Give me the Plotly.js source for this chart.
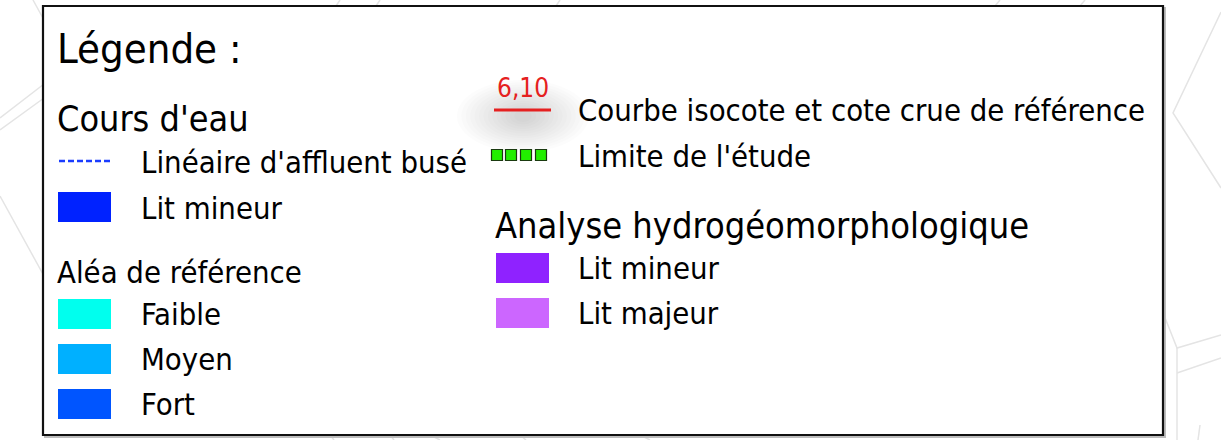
<!DOCTYPE html>
<html><head><meta charset="utf-8">
<script src="https://cdn.plot.ly/plotly-3.0.1.min.js"></script>
<style>html,body{margin:0;padding:0;background:#fff;}#chart{width:1221px;height:440px;}</style>
</head><body><div id="chart"></div>
<script>
// ---- data ----
const legendTitle = "Légende :";
const groupTitles = ["Cours d'eau", "Aléa de référence", "Analyse hydrogéomorphologique"];
const coursLabels = ["Linéaire d'affluent busé", "Lit mineur"];
const coursColors = ["#1a3cff", "#0022ff"];
const aleaLabels = ["Faible", "Moyen", "Fort"];
const aleaColors = ["#00ffee", "#00b0ff", "#0055ff"];
const hydroLabels = ["Lit mineur", "Lit majeur"];
const hydroColors = ["#8f22ff", "#cc66ff"];
const lineLabels = ["Courbe isocote et cote crue de référence", "Limite de l'étude"];
const isocoteValue = "6,10";
const lineColors = ["#e52020", "#22ee00"];

// ---- layout helpers (positions/styles) ----
const FONT = "DejaVu Sans Condensed, Liberation Sans, sans-serif";
const ITEM = 30.75;
const shapes = [];
const ann = [];
function text(t, x, y, size, color) {
  ann.push({text: t, x: x, y: y, xref: 'x', yref: 'y', xanchor: 'left', yanchor: 'middle',
    showarrow: false, font: {family: FONT, size: size, color: color || '#000'}});
}
function rect(x0, y0, x1, y1, color) {
  shapes.push({type: 'rect', xref: 'x', yref: 'y', x0: x0, y0: y0, x1: x1, y1: y1,
    fillcolor: color, line: {width: 0}, layer: 'above'});
}
function seg(pts) {
  let p = 'M' + pts.map(q => q[0] + ',' + q[1]).join(' L');
  shapes.push({type: 'path', xref: 'x', yref: 'y', path: p, line: {color: '#e4e4e4', width: 1.5}, layer: 'below'});
}

// background map lines
seg([[33,0],[44,20]]);
seg([[0,118],[44,84]]);
seg([[0,130],[44,98]]);
seg([[0,196],[44,276]]);
seg([[1221,12],[1173,113],[1221,188]]);
seg([[1160,305],[1177,348],[1221,335]]);
seg([[1177,348],[1177,440]]);
seg([[1177,373],[1221,358]]);
seg([[340,0],[336,6]]); seg([[380,0],[376,6]]); seg([[560,0],[556,6]]);
seg([[1000,0],[995,6]]); seg([[1085,0],[1080,6]]);
seg([[330,435],[334,440]]); seg([[390,435],[394,440]]); seg([[430,435],[440,440]]);
seg([[520,435],[526,440]]); seg([[640,435],[650,440]]); seg([[1200,425],[1198,440]]);

// box shadow + border
shapes.push({type:'rect', xref:'x', yref:'y', x0:45, y0:8, x1:1165, y1:437, fillcolor:'rgba(0,0,0,0)', line:{color:'#bdbdbd', width:2}, layer:'below'});
shapes.push({type:'rect', xref:'x', yref:'y', x0:43, y0:6, x1:1163, y1:435, fillcolor:'#ffffff', line:{color:'#111', width:2.2}, layer:'below'});

// title
text(legendTitle, 55, 48, 41.5);
// Cours d'eau
text(groupTitles[0], 55, 118, 35.7);
shapes.push({type:'line', xref:'x', yref:'y', x0:59, y0:161, x1:113, y1:161,
  line:{color: coursColors[0], width: 2.5, dash: '6px,3px'}, layer:'above'});
text(coursLabels[0], 139, 162, ITEM);
rect(58, 192, 111, 222, coursColors[1]);
text(coursLabels[1], 139, 208, ITEM);
// Aléa
text(groupTitles[1], 55, 272, ITEM);
const aleaY = [314, 359, 404];
aleaLabels.forEach((l, i) => {
  rect(58, aleaY[i] - 15, 111, aleaY[i] + 15, aleaColors[i]);
  text(l, 139, aleaY[i], ITEM);
});
// soft shadow behind red line
for (let k = 0; k < 14; k++) {
  const rx = 66 - k * 4.4, ry = 36 - k * 2.3;
  shapes.push({type:'circle', xref:'x', yref:'y', x0:523-rx, y0:116-ry, x1:523+rx, y1:116+ry,
    fillcolor:'rgba(110,110,110,0.024)', line:{width:0}, layer:'below'});
}
shapes.push({type:'line', xref:'x', yref:'y', x0:494, y0:110, x1:551, y1:110, line:{color: lineColors[0], width: 3}, layer:'above'});
ann.push({text: isocoteValue, x: 523, y: 88, xref:'x', yref:'y', xanchor:'center', yanchor:'middle', showarrow:false,
  font:{family: FONT, size: 26, color: lineColors[0]}});
text(lineLabels[0], 576, 110, ITEM);
text(lineLabels[1], 576, 156, ITEM);
// Hydro
text(groupTitles[2], 493, 225, 35.9);
const hydroY = [268, 313];
hydroLabels.forEach((l, i) => {
  rect(496, hydroY[i] - 15, 549, hydroY[i] + 15, hydroColors[i]);
  text(l, 576, hydroY[i], ITEM);
});

const traces = [{
  type: 'scatter', mode: 'markers', x: [497, 511, 526, 541], y: [155, 155, 155, 155],
  marker: {symbol: 'square', size: 11, color: lineColors[1], line: {color: '#1a3a10', width: 1.2}},
  hoverinfo: 'skip', showlegend: false
}];

Plotly.newPlot('chart', traces, {
  width: 1221, height: 440, margin: {l:0, r:0, t:0, b:0},
  paper_bgcolor: '#fff', plot_bgcolor: '#fff', showlegend: false,
  xaxis: {range: [0, 1221], visible: false, fixedrange: true},
  yaxis: {range: [440, 0], visible: false, fixedrange: true},
  shapes: shapes, annotations: ann
}, {staticPlot: true});
</script></body></html>
